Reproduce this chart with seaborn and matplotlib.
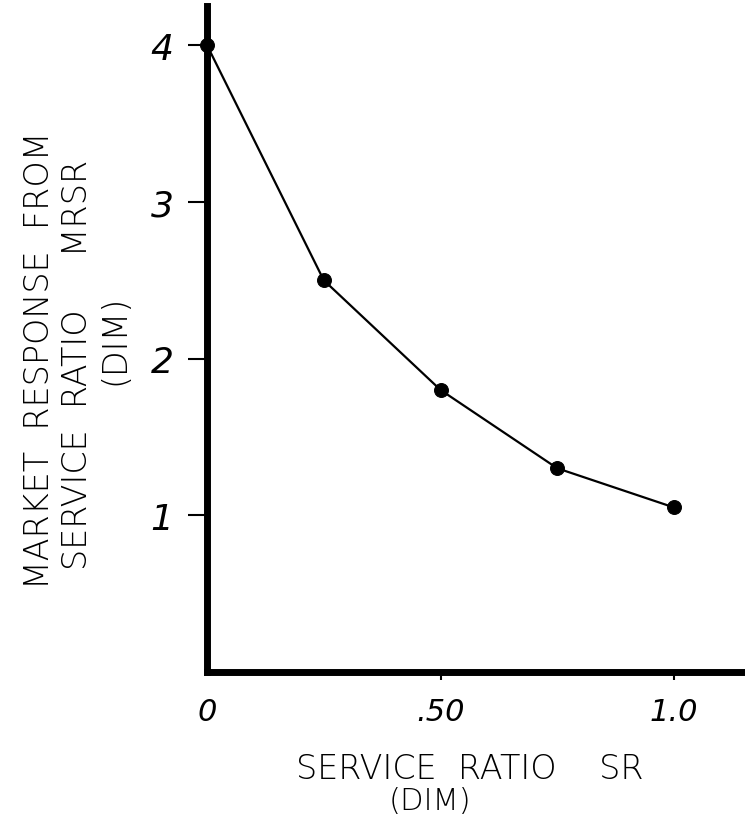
import numpy as np
import pandas as pd
import matplotlib
matplotlib.use("Agg")
import matplotlib.pyplot as plt
import seaborn as sns

# table values
service_ratio = [0.0, 0.25, 0.50, 0.75, 1.0]
market_response = [4.0, 2.5, 1.8, 1.3, 1.05]
x_ticks = [0.0, 0.5, 1.0]
x_tick_labels = ["0", ".50", "1.0"]
y_ticks = [1, 2, 3, 4]
y_tick_labels = ["1", "2", "3", "4"]

sns.set_style("white")
plt.rcParams["font.family"] = ["DejaVu Sans"]
plt.rcParams["text.color"] = "black"
plt.rcParams["xtick.color"] = "black"
plt.rcParams["ytick.color"] = "black"

data = pd.DataFrame({"SR": service_ratio, "MRSR": market_response})

fig = plt.figure(figsize=(7.45, 8.2), dpi=100)
ax = fig.add_axes([207 / 745, 147 / 820, 1 - 207 / 745, 666 / 820])

sns.lineplot(data=data, x="SR", y="MRSR", ax=ax, color="black", linewidth=1.6,
             marker="o", markersize=10, markeredgecolor="black", clip_on=False)

ax.set_xlim(0, 1.152)
ax.set_ylim(0, 4.25)
sns.despine(ax=ax)
for side in ["left", "bottom"]:
    ax.spines[side].set_linewidth(5)
    ax.spines[side].set_color("black")

ax.set_xticks(x_ticks)
ax.set_xticklabels(x_tick_labels, fontsize=22, style="italic", fontweight="light")
ax.set_yticks(y_ticks)
ax.set_yticklabels(y_tick_labels, fontsize=26, style="italic", fontweight="light")
ax.tick_params(axis="y", direction="out", length=14, width=1.5, pad=10, left=True)
ax.tick_params(axis="x", direction="out", length=6, width=1.5, pad=12, bottom=True)
# the corner has no tick mark in the sketch
ax.xaxis.get_major_ticks()[0].tick1line.set_visible(False)

ax.set_xlabel("")
ax.set_ylabel("")

# hand-lettered axis titles
fig.text(40 / 745, 1 - 360 / 820, "MARKET  RESPONSE  FROM", rotation=90,
         ha="center", va="center", fontsize=24, fontweight="light")
fig.text(78 / 745, 1 - 365 / 820, "SERVICE  RATIO     MRSR", rotation=90,
         ha="center", va="center", fontsize=24, fontweight="light")
fig.text(115 / 745, 1 - 340 / 820, "(DIM)", rotation=90,
         ha="center", va="center", fontsize=24, fontweight="light")
fig.text(470 / 745, 1 - 770 / 820, "SERVICE  RATIO    SR",
         ha="center", va="center", fontsize=24, fontweight="light")
fig.text(430 / 745, 1 - 802 / 820, "(DIM)",
         ha="center", va="center", fontsize=22, fontweight="light")

fig.savefig("out.png", dpi=100)
